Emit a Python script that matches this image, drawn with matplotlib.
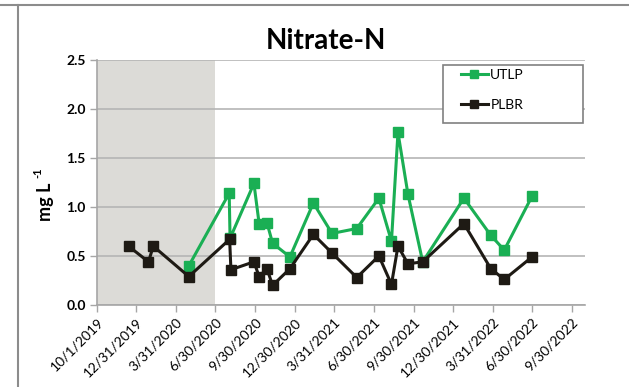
import matplotlib
matplotlib.use("Agg")
import matplotlib.pyplot as plt
import pandas as pd
from matplotlib.lines import Line2D
from matplotlib.patches import Rectangle

plt.rcParams['font.family'] = ['Lato', 'DejaVu Sans']

# values
utlp_dates = ['2020-04-30', '2020-08-01', '2020-08-03', '2020-09-27', '2020-10-09',
              '2020-10-27', '2020-11-09', '2020-12-19', '2021-02-11', '2021-03-26',
              '2021-05-22', '2021-07-12', '2021-08-10', '2021-08-25', '2021-09-17',
              '2021-10-21', '2022-01-24', '2022-03-27', '2022-04-27', '2022-06-30']
utlp_vals = [0.40, 1.14, 0.68, 1.24, 0.83, 0.84, 0.63, 0.49, 1.04, 0.73,
             0.78, 1.09, 0.65, 1.76, 1.13, 0.44, 1.09, 0.71, 0.56, 1.11]

plbr_dates = ['2019-12-13', '2020-01-28', '2020-02-08', '2020-04-30', '2020-08-02',
              '2020-08-05', '2020-09-27', '2020-10-09', '2020-10-27', '2020-11-09',
              '2020-12-19', '2021-02-11', '2021-03-26', '2021-05-22', '2021-07-12',
              '2021-08-10', '2021-08-25', '2021-09-17', '2021-10-21', '2022-01-24',
              '2022-03-27', '2022-04-27', '2022-06-30']
plbr_vals = [0.60, 0.44, 0.60, 0.29, 0.67, 0.36, 0.44, 0.29, 0.37, 0.20,
             0.37, 0.72, 0.53, 0.28, 0.50, 0.21, 0.60, 0.42, 0.44, 0.83,
             0.37, 0.26, 0.49]

tick_dates = ['2019-10-01', '2019-12-31', '2020-03-31', '2020-06-30', '2020-09-30',
              '2020-12-30', '2021-03-31', '2021-06-30', '2021-09-30', '2021-12-30',
              '2022-03-31', '2022-06-30', '2022-09-30']
tick_labels = ['10/1/2019', '12/31/2019', '3/31/2020', '6/30/2020', '9/30/2020',
               '12/30/2020', '3/31/2021', '6/30/2021', '9/30/2021', '12/30/2021',
               '3/31/2022', '6/30/2022', '9/30/2022']

shade_start = '2019-10-01'
shade_end = '2020-06-30'

GREEN = '#1aaf54'
BLACK = '#1e1a14'
GRID = '#b5b5b5'

fig = plt.figure(figsize=(6.29, 3.87), dpi=100)
ax = fig.add_axes([0.154, 0.212, 0.776, 0.633])

ax.axvspan(pd.Timestamp(shade_start), pd.Timestamp(shade_end), ymin=0, ymax=1,
           color='#dcdbd7', zorder=0, lw=0)

ax.plot(pd.to_datetime(utlp_dates), utlp_vals, color=GREEN, lw=2.2, marker='s',
        ms=7, label='UTLP', zorder=3)
ax.plot(pd.to_datetime(plbr_dates), plbr_vals, color=BLACK, lw=2.2, marker='s',
        ms=7, label='PLBR', zorder=4)

ax.set_xlim(pd.Timestamp('2019-10-01'), pd.Timestamp('2022-10-30'))
ax.set_ylim(0, 2.5)
ax.set_yticks([0, 0.5, 1.0, 1.5, 2.0, 2.5])
ax.set_yticklabels(['0.0', '0.5', '1.0', '1.5', '2.0', '2.5'], fontweight='bold', fontsize=10)
ax.yaxis.grid(True, color=GRID, lw=1.2)
ax.set_axisbelow(True)

ax.set_xticks(pd.to_datetime(tick_dates))
ax.set_xticklabels(tick_labels, rotation=45, ha='right', rotation_mode='anchor', fontsize=10)

for s in ['top', 'right']:
    ax.spines[s].set_visible(False)
for s in ['left', 'bottom']:
    ax.spines[s].set_color('#a6a6a6')
    ax.spines[s].set_linewidth(1.2)
ax.tick_params(axis='both', length=5, color='#a6a6a6', width=1, pad=3)

# y label: "mg L" with a small raised "-1"
fig.text(0.072, 0.478, 'mg L', rotation=90, fontweight='bold', fontsize=13,
         ha='center', va='center')
fig.text(0.061, 0.553, '-1', rotation=90, fontweight='bold', fontsize=8,
         ha='center', va='center')

ax.set_title('Nitrate-N', fontweight='bold', fontsize=20, pad=8, x=0.469)

# Excel-style legend box, wider than its entries
ax.add_patch(Rectangle((0.709, 0.743), 0.287, 0.237, transform=ax.transAxes,
                       facecolor='white', edgecolor='#808080', lw=1.2, zorder=5))
leg = ax.legend(loc='upper left', bbox_to_anchor=(0.745, 0.962), frameon=False,
                fontsize=10, handlelength=2.0, labelspacing=1.25, borderpad=0,
                handletextpad=0.15, borderaxespad=0)
leg.set_zorder(6)
for h in leg.legend_handles:
    h.set_markersize(5.5)

# Excel chart-area frame, partly cropped
fig.add_artist(Line2D([0, 1], [0.987, 0.987], transform=fig.transFigure,
                      color='#8c8c8c', lw=1.5))
fig.add_artist(Line2D([0.029, 0.029], [0, 0.987], transform=fig.transFigure,
                      color='#8c8c8c', lw=1.5))

fig.savefig('out.png', dpi=100)
